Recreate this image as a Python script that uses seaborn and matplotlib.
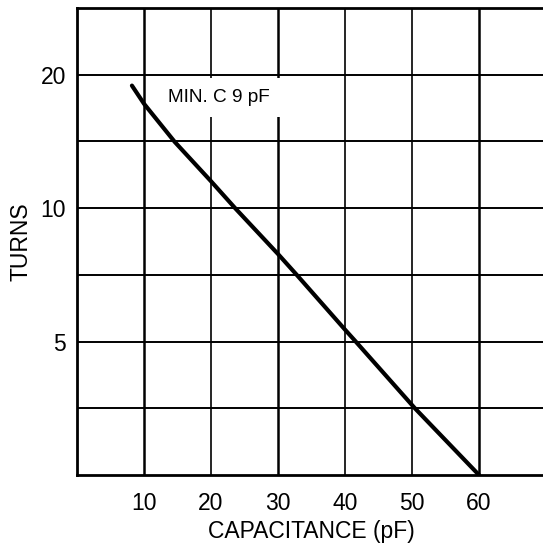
import numpy as np
import pandas as pd
import matplotlib
matplotlib.use("Agg")
import matplotlib.pyplot as plt
import seaborn as sns

# =========================
# DATA
# =========================

capacitance = [8.2, 10, 14.6, 20, 23.6, 30, 32.8, 40, 41.5, 50.4, 60]
turns = [18.9, 17.2, 14.1, 11.5, 10.0, 7.88, 7.07, 5.32, 5.02, 3.54, 2.5]

x_ticks = [10, 20, 30, 40, 50, 60]
y_ticks = [5, 10, 20]
note = "MIN. C 9 pF"

df = pd.DataFrame({"cap": capacitance, "turns": turns})

# =========================
# STYLE
# =========================

sns.set_style("white")
plt.rcParams['font.family'] = ['Liberation Sans', 'DejaVu Sans']
plt.rcParams['text.color'] = 'black'
plt.rcParams['axes.labelcolor'] = 'black'
plt.rcParams['xtick.color'] = 'black'
plt.rcParams['ytick.color'] = 'black'

fig = plt.figure(figsize=(5.43, 5.43), dpi=100)
ax = fig.add_axes([77 / 543, 68 / 543, 469 / 543, 467 / 543])

# grid: every 10 pF, every half octave in turns
ymin, ymax = 2.5, 2.5 * np.sqrt(2) ** 7
for gx in range(10, 70, 10):
    lw = 1.8 if gx in (10, 30, 60) else 1.2
    ax.axvline(gx, color="black", lw=lw, zorder=1)
for k in range(1, 7):
    ax.axhline(2.5 * np.sqrt(2) ** k, color="black", lw=1.4, zorder=1)

sns.lineplot(data=df, x="cap", y="turns", ax=ax, color="black", lw=3.0, zorder=3)

ax.set_yscale("log", base=2)
ax.set_xlim(0, 70)
ax.set_ylim(ymin, ymax)

ax.set_xticks(x_ticks)
ax.set_xticklabels([str(v) for v in x_ticks], fontsize=16.5)
ax.set_yticks(y_ticks)
ax.set_yticklabels([str(v) for v in y_ticks], fontsize=16.5)
ax.minorticks_off()
ax.tick_params(axis="x", length=0, pad=12)
ax.tick_params(axis="y", length=0, pad=8)

ax.set_xlabel("CAPACITANCE (pF)", fontsize=16.5, labelpad=4)
ax.set_ylabel("TURNS", fontsize=16.5, labelpad=6)

for side in ["left", "bottom", "top", "right"]:
    ax.spines[side].set_color("black")
    ax.spines[side].set_linewidth(2.0)

ax.text(21.2, 17.76, note, fontsize=13.7, ha="center", va="center", zorder=2,
        bbox=dict(boxstyle="square,pad=0.6", fc="white", ec="none"))

fig.savefig("out.png", dpi=100)
